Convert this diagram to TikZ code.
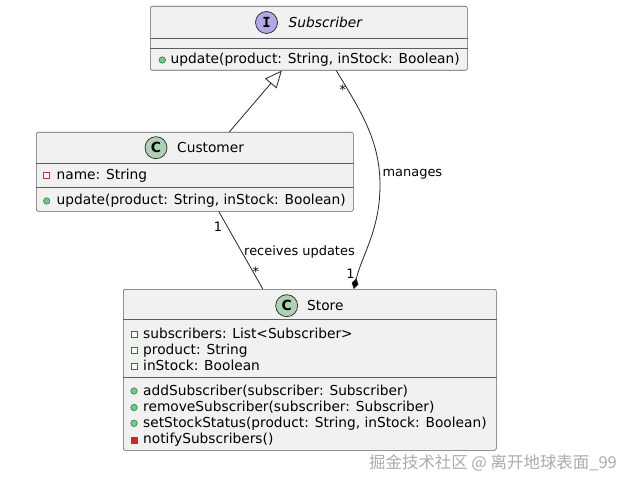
\documentclass[tikz,border=0pt]{standalone}
\usepackage{fontspec}
\setmainfont{DejaVu Sans}
\setmonofont{DejaVu Sans Mono}
\newfontfamily\cjkfont{Noto Sans CJK SC}
\usetikzlibrary{arrows.meta,positioning,calc}
\definecolor{umlBoxFill}{HTML}{F1F1F1}
\definecolor{umlBorder}{HTML}{5E5E5E}
\definecolor{umlInterface}{HTML}{B4A7E5}
\definecolor{umlClass}{HTML}{ADD1B2}
\definecolor{umlPublic}{HTML}{84BE84}
\definecolor{umlPublicBorder}{HTML}{038048}
\definecolor{umlPrivate}{HTML}{C82930}

\begin{document}
\begin{tikzpicture}[
  x=1bp, y=-1bp,
  classbox/.style={
    draw=umlBorder,
    fill=umlBoxFill,
    rounded corners=2bp,
    line width=0.6bp,
    anchor=north west,
    inner sep=0pt
  },
  badge/.style={circle,draw=black!85,line width=0.7bp,minimum size=22bp,inner sep=0pt},
  title/.style={anchor=base west,inner sep=0pt,font=\fontsize{13.8}{16}\selectfont},
  member/.style={anchor=base west,inner sep=0pt,font=\fontsize{13.8}{16}\selectfont},
  pubicon/.style={circle,draw=umlPublicBorder,fill=umlPublic,minimum size=6.5bp,inner sep=0pt,line width=0.5bp},
  privfield/.style={draw=umlPrivate,fill=white,minimum size=6bp,inner sep=0pt,line width=0.8bp},
  privmethod/.style={draw=umlPrivate,fill=umlPrivate,minimum size=6.5bp,inner sep=0pt},
  sep/.style={draw=umlBorder,line width=0.6bp},
  link/.style={draw=black!85,line width=0.8bp},
  linklabel/.style={inner sep=0pt,font=\fontsize{13}{13}\selectfont}
]
  \useasboundingbox[fill=white] (0,0) rectangle (630,486);

  % interface Subscriber
  \node[classbox,minimum width=317bp,minimum height=64bp] (subscriber) at (150,6) {};
  \draw[sep] ($(subscriber.north west)+(0,32)$) -- ($(subscriber.north east)+(0,32)$);
  \draw[sep] ($(subscriber.north west)+(0,42)$) -- ($(subscriber.north east)+(0,42)$);
  \node[badge,fill=umlInterface] (subBadge) at (266.5,22.5) {\ttfamily\bfseries\fontsize{14}{14}\selectfont I};
  \node[title] (subTitle) at (288.5,28) {\itshape Subscriber};
  \node[pubicon] (subUpdIcon) at (162.3,60) {};
  \node[member] (subUpdate) at (170.5,64) {update(product: String, inStock: Boolean)};

  % class Customer
  \node[classbox,minimum width=317bp,minimum height=79bp] (customer) at (36,132) {};
  \draw[sep] ($(customer.north west)+(0,31)$) -- ($(customer.north east)+(0,31)$);
  \draw[sep] ($(customer.north west)+(0,55)$) -- ($(customer.north east)+(0,55)$);
  \node[badge,fill=umlClass] (custBadge) at (156,147.7) {\bfseries\fontsize{14}{14}\selectfont C};
  \node[title] (custTitle) at (177,152.5) {Customer};
  \node[privfield] (custNameIcon) at (46.7,175.7) {};
  \node[member] (custName) at (56.5,180) {name: String};
  \node[pubicon] (custUpdIcon) at (46.7,201) {};
  \node[member] (custUpdate) at (56.5,205) {update(product: String, inStock: Boolean)};

  % class Store
  \node[classbox,minimum width=373bp,minimum height=161bp] (store) at (123,289) {};
  \draw[sep] ($(store.north west)+(0,30)$) -- ($(store.north east)+(0,30)$);
  \draw[sep] ($(store.north west)+(0,88)$) -- ($(store.north east)+(0,88)$);
  \node[badge,fill=umlClass] (storeBadge) at (286.7,305.7) {\bfseries\fontsize{14}{14}\selectfont C};
  \node[title] (storeTitle) at (307,310) {Store};
  \node[privfield] (storeSubsIcon) at (134,334.3) {};
  \node[member] (storeSubs) at (143,338) {subscribers: List<Subscriber>};
  \node[privfield] (storeProdIcon) at (134,350.3) {};
  \node[member] (storeProd) at (143,354) {product: String};
  \node[privfield] (storeStockIcon) at (134,366.7) {};
  \node[member] (storeStock) at (143,370) {inStock: Boolean};
  \node[pubicon] (storeAddIcon) at (134,391) {};
  \node[member] (storeAdd) at (143,395) {addSubscriber(subscriber: Subscriber)};
  \node[pubicon] (storeRemIcon) at (134,407.5) {};
  \node[member] (storeRem) at (143,411.5) {removeSubscriber(subscriber: Subscriber)};
  \node[pubicon] (storeSetIcon) at (134,423.3) {};
  \node[member] (storeSet) at (143,427.3) {setStockStatus(product: String, inStock: Boolean)};
  \node[privmethod] (storeNotifyIcon) at (134,440) {};
  \node[member] (storeNotify) at (143,443.5) {notifySubscribers()};

  % relations
  \draw[link,-{Triangle[open,length=17bp,width=15bp]}]
    ([xshift=34.5bp]customer.north) -- ([xshift=-27bp]subscriber.south);
  \draw[link] ([xshift=24bp]customer.south)
    -- node[linklabel,pos=0.2,left=5bp] (custOne) {1}
       node[linklabel,pos=0.5,right=3bp,yshift=-2bp] (recvLabel) {receives updates}
       node[linklabel,pos=0.78,anchor=west,xshift=-1bp] (storeMany) {*}
    ([xshift=-47bp]store.north);
  \coordinate (mgBend) at (380,185);
  \draw[link,-{Diamond[fill=black,length=11bp,width=7bp]}]
    ([xshift=27.5bp]subscriber.south)
    .. controls (360,110) and (380,140) ..
    node[linklabel,pos=0.17,left=1.5bp] (subMany) {*}
    node[linklabel,pos=0.88,right=3bp,yshift=-5bp] (mgLabel) {manages}
    (mgBend)
    .. controls (380,230) and (362,255) ..
    node[linklabel,pos=0.85,left=3bp] (storeOne) {1}
    ([xshift=44bp]store.north);

  \node[anchor=base east,inner sep=0pt,text=gray!65,font=\cjkfont\fontsize{16.5}{17}\selectfont] (watermark)
    at (617,468.5) {掘金技术社区 @ 离开地球表面\_99};
\end{tikzpicture}
\end{document}
